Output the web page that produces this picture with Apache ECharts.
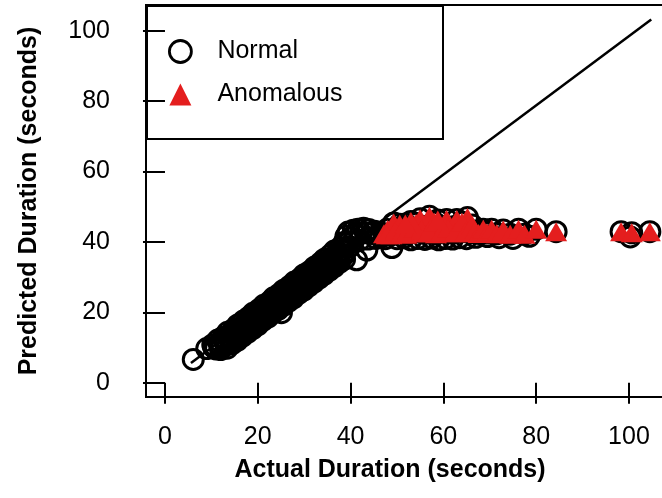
<!DOCTYPE html>
<html>
<head>
<meta charset="utf-8">
<script src="https://cdn.jsdelivr.net/npm/echarts@6/dist/echarts.min.js"></script>
<style>
html,body{margin:0;padding:0;background:#fff;}
#chart{width:662px;height:498px;}
</style>
</head>
<body>
<div id="chart"></div>
<script>
// Tick labels
var xTicks = [0, 20, 40, 60, 80, 100];
var yTicks = [0, 20, 40, 60, 80, 100];

// Normal points (actual, predicted)
var normalX = [
  6.1,
  9.0, 10.3, 11.4, 12.6, 13.5, 14.8, 15.7, 16.9, 18.1, 19.0, 20.2, 21.3, 22.5, 23.4, 24.7, 25.6, 26.8, 27.9, 29.1, 30.0, 31.2, 32.3, 33.5, 34.4, 35.6, 36.5, 37.7,
  10.5, 11.7, 12.8, 13.9, 15.0, 16.1, 17.2, 18.3, 19.4, 20.5, 21.6, 22.7, 23.8, 24.9, 26.0, 27.1, 28.2, 29.3, 30.4, 31.5, 32.6, 33.7, 34.8, 35.9, 37.0, 38.0,
  10.9, 11.9, 13.0, 14.1, 15.3, 16.2, 17.5, 18.6, 19.5, 20.8, 21.8, 23.0, 24.0, 25.2, 26.3, 27.3, 28.5, 29.6, 30.6, 31.8, 32.9, 33.9, 35.1, 36.1, 37.2, 38.3,
  12.0, 13.1, 14.2, 15.3, 16.4, 17.5, 18.6, 19.7, 20.8, 21.9, 23.0, 24.1, 25.2, 26.3, 27.4, 28.5, 29.6, 30.7, 31.8, 32.9, 34.0, 35.1, 36.2, 37.3, 38.4,
  13.4, 14.5, 15.6, 16.7, 17.8, 18.9, 20.0, 21.1, 22.2, 23.3, 24.4, 25.1, 25.5, 26.6, 27.7, 28.8, 29.9, 31.0, 32.1, 33.2, 34.3, 35.4, 36.5, 37.6, 38.7,
  38.6, 39.0, 39.5, 40.1, 40.6, 41.0, 41.6, 42.2, 42.8, 43.3, 43.9, 44.5, 45.2, 45.9, 39.8, 40.5, 41.3, 43.5, 42.0, 43.8, 45.5, 46.5, 47.5, 48.9,
  50.0, 51.5, 53.0, 54.5, 56.0, 57.5, 59.0, 60.5, 62.0, 63.5, 65.0, 67.0, 69.5, 72.0, 75.0, 78.5, 100.3
];
var normalY = [
  6.6,
  9.7, 10.8, 12.1, 13.0, 14.3, 15.2, 16.4, 17.5, 18.6, 19.7, 20.7, 22.0, 22.9, 24.1, 25.2, 26.3, 27.3, 28.6, 29.5, 30.7, 31.6, 32.9, 34.0, 35.1, 36.2, 37.4, 38.3,
  10.1, 11.1, 12.4, 13.3, 14.6, 15.5, 16.7, 17.9, 18.8, 20.1, 21.0, 22.3, 23.2, 24.4, 25.5, 26.6, 27.7, 28.8, 29.9, 31.0, 32.1, 33.2, 34.3, 35.4, 36.5, 37.6,
  9.6, 10.2, 11.7, 12.4, 13.9, 14.5, 16.1, 16.8, 18.1, 19.0, 20.5, 21.2, 22.6, 23.4, 24.9, 25.5, 27.1, 27.8, 29.3, 30.0, 31.5, 32.1, 33.7, 34.3, 35.8, 36.5,
  9.4, 10.7, 11.6, 12.9, 13.8, 15.1, 16.0, 17.3, 18.2, 19.5, 20.4, 21.7, 22.6, 23.9, 24.8, 26.1, 27.0, 28.2, 29.4, 30.3, 31.6, 32.5, 33.8, 34.7, 36.0,
  9.8, 11.1, 12.0, 13.2, 14.3, 15.4, 16.4, 17.7, 18.6, 19.9, 20.8, 19.9, 22.0, 23.1, 24.1, 25.4, 26.3, 27.5, 28.6, 29.7, 30.8, 31.9, 33.0, 34.2, 35.1,
  39.8, 41.6, 42.8, 41.2, 43.3, 42.1, 43.6, 42.5, 43.9, 42.6, 43.5, 42.4, 43.0, 42.0, 38.6, 39.9, 34.9, 37.7, 40.5, 40.8, 41.0, 41.3, 40.9, 38.4,
  40.9, 41.2, 40.6, 41.0, 40.7, 41.1, 40.6, 41.0, 40.8, 41.2, 40.9, 41.3, 41.5, 41.2, 41.0, 41.6, 41.4
];

// Anomalous points (actual, predicted)
var anomX = [
  47.2, 48.0, 48.8, 49.3, 50.0, 50.6, 51.3, 52.0, 52.7, 53.4, 54.1, 55.0, 55.6, 56.3, 57.0, 57.7, 58.4, 59.2, 60.0, 60.7, 61.4, 62.1, 62.9, 63.6, 64.3, 65.2, 65.9,
  47.8, 49.6, 51.0, 52.4, 53.8, 55.3, 56.8, 58.0, 59.6, 61.0, 62.5, 64.0, 64.8, 66.2, 53.0, 58.8, 51.8,
  66.8, 67.6, 68.6, 69.4, 70.4, 71.5, 72.9, 74.4, 76.2, 77.5, 80.0, 84.3, 98.3, 100.6, 104.5
];
var anomY = [
  42.3, 43.5, 42.0, 45.4, 42.8, 45.0, 43.6, 42.2, 44.1, 42.7, 45.2, 46.6, 42.5, 44.4, 47.3, 43.0, 42.3, 44.6, 43.2, 46.4, 42.6, 44.3, 46.4, 42.9, 44.0, 46.9, 42.6,
  42.0, 43.0, 42.5, 43.4, 43.9, 43.5, 42.8, 45.6, 42.9, 43.9, 42.6, 45.6, 42.9, 44.8, 45.8, 46.2, 45.1,
  43.1, 42.4, 43.6, 42.5, 43.6, 42.3, 43.4, 42.2, 43.6, 42.2, 43.6, 42.9, 42.9, 42.6, 42.9
];

// Reference line ends (actual, predicted)
var refLineX = [5.6, 104.8];
var refLineY = [5.6, 103.2];

function zip(a, b) { return a.map(function (v, i) { return [v, b[i]]; }); }

var FONT = '"Liberation Sans", Arial, Helvetica, sans-serif';
var RED = '#e41e1e';
var FS = 25;

var chart = echarts.init(document.getElementById('chart'), null, {renderer: 'canvas'});
chart.setOption({
  animation: false,
  backgroundColor: '#fff',
  grid: {
    left: 146, top: 5, width: 536, height: 392,
    outerBoundsMode: 'none', containLabel: false,
    show: true, borderColor: '#000', borderWidth: 2, backgroundColor: 'transparent'
  },
  xAxis: {
    type: 'value', min: -4.09, max: 111.43,
    axisLine: {show: false},
    splitLine: {show: false},
    axisTick: {show: true, customValues: xTicks, length: 21, inside: false, lineStyle: {color: '#000', width: 2}},
    axisLabel: {customValues: xTicks, margin: 28, fontSize: FS, color: '#000', fontFamily: FONT},
    name: 'Actual Duration (seconds)', nameLocation: 'middle', nameGap: 61,
    nameTextStyle: {fontSize: FS, fontWeight: 'bold', color: '#000', fontFamily: FONT, padding: [0, 48, 0, 0]}
  },
  yAxis: {
    type: 'value', min: -4.06, max: 107.3,
    axisLine: {show: false},
    splitLine: {show: false},
    axisTick: {show: true, customValues: yTicks, length: 22, inside: false, lineStyle: {color: '#000', width: 2}},
    axisLabel: {customValues: yTicks, margin: 36, fontSize: FS, color: '#000', fontFamily: FONT},
    name: 'Predicted Duration (seconds)', nameLocation: 'middle', nameGap: 104, nameRotate: 90,
    nameTextStyle: {fontSize: FS, fontWeight: 'bold', color: '#000', fontFamily: FONT}
  },
  legend: {
    orient: 'vertical', left: 168, top: 39, itemGap: 18, padding: 0,
    itemWidth: 22, itemHeight: 22,
    textStyle: {fontSize: FS, color: '#000', fontFamily: FONT, padding: [0, 0, 0, 21]},
    data: [
      {name: 'Normal', icon: 'circle', itemStyle: {color: '#fff', borderColor: '#000', borderWidth: 2.8, opacity: 1}},
      {name: 'Anomalous', icon: 'triangle', itemStyle: {color: RED, borderWidth: 0, opacity: 1}}
    ]
  },
  graphic: [{
    type: 'rect', left: 146, top: 5, z: 0,
    shape: {width: 296, height: 133},
    style: {fill: '#fff', stroke: '#000', lineWidth: 2}
  }],
  series: [
    {
      type: 'line', name: 'ref', data: zip(refLineX, refLineY), showSymbol: false, symbol: 'none',
      lineStyle: {color: '#000', width: 2.5}, z: 2, silent: true
    },
    {
      type: 'scatter', name: 'Normal', data: zip(normalX, normalY),
      symbol: 'circle', symbolSize: 20,
      itemStyle: {color: 'rgba(0,0,0,0)', borderColor: '#000', borderWidth: 3, opacity: 1}, z: 3
    },
    {
      type: 'scatter', name: 'AnomCircle', data: zip(anomX, anomY),
      symbol: 'circle', symbolSize: 20,
      itemStyle: {color: 'rgba(0,0,0,0)', borderColor: '#000', borderWidth: 3, opacity: 1}, z: 3
    },
    {
      type: 'scatter', name: 'Anomalous', data: zip(anomX, anomY),
      symbol: 'triangle', symbolSize: [22, 19],
      itemStyle: {color: RED, opacity: 1}, z: 4
    }
  ]
});
</script>
</body>
</html>
